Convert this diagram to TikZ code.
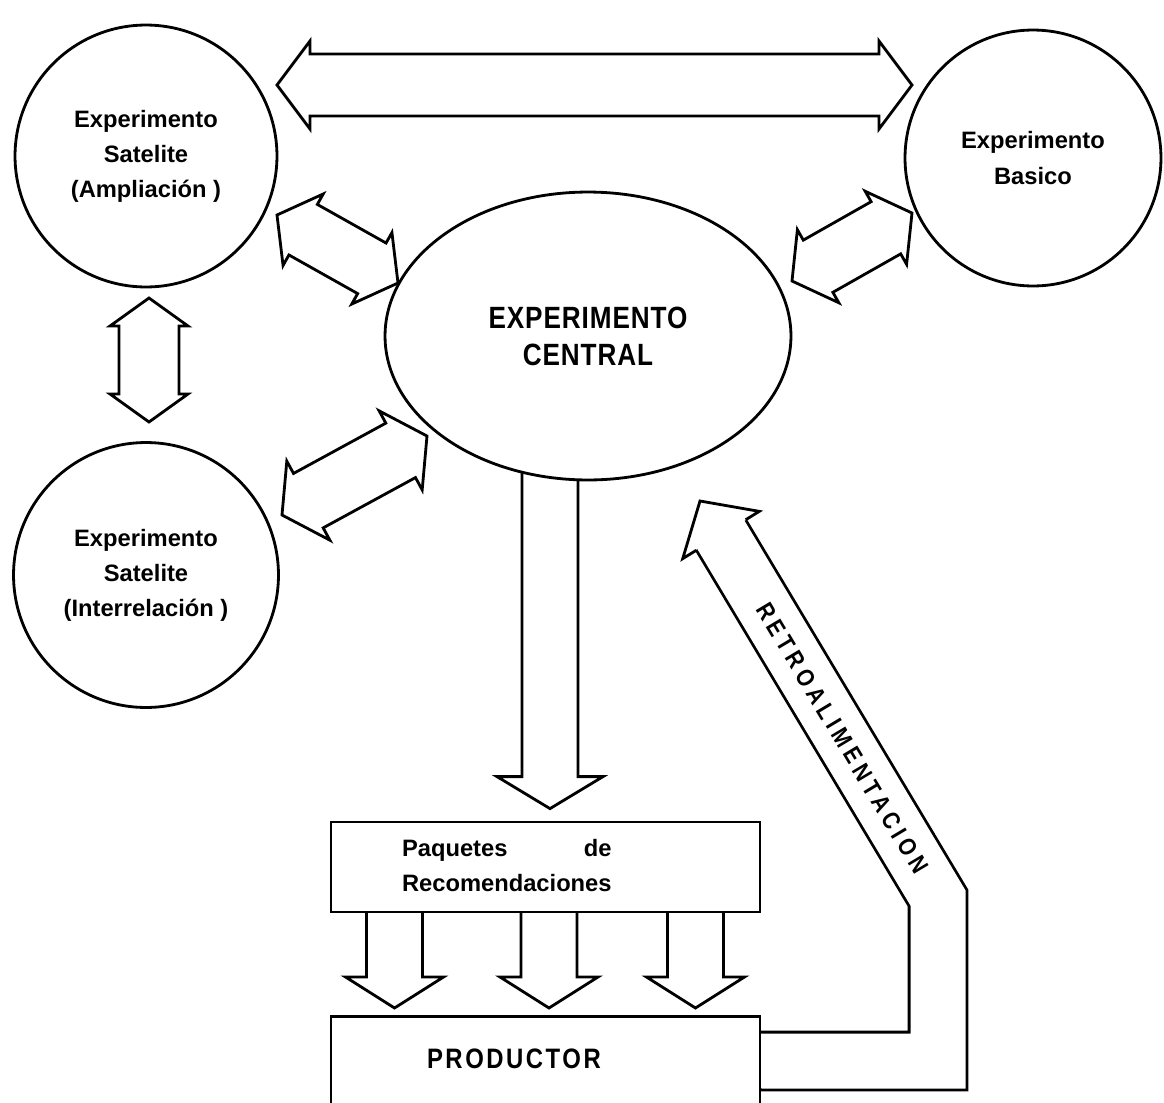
\documentclass[tikz,border=0pt]{standalone}
\usepackage{fontspec}
\setmainfont{Liberation Sans}
\newfontfamily\capsfont{Liberation Sans}[FakeStretch=0.85,LetterSpace=3]
\newfontfamily\prodfont{Liberation Sans}[FakeStretch=0.85,LetterSpace=9]
\newfontfamily\retrofont{Liberation Sans}[FakeStretch=0.85,LetterSpace=20]
\usetikzlibrary{shapes,calc,backgrounds}
\tikzstyle{expcircle} = [circle, draw, fill=white, align=center, font=\bfseries\fontsize{13.5}{20}\selectfont]
\tikzstyle{expcentral} = [ellipse, draw, fill=white, align=center, minimum width=8.12cm, minimum height=5.76cm, font=\capsfont\bfseries\fontsize{17.5}{21}\selectfont]
\tikzstyle{block} = [rectangle, draw, fill=white, minimum width=8.58cm, align=left]
\tikzstyle{feedback} = [draw, line width=1.6pt, double=white, double distance=1.1cm, line join=miter]
\tikzset{
  fat/.style n args={3}{line width=1.6pt, to path={
    -- ($(\tikztostart)!#1!(\tikztotarget)!#2!90:(\tikztotarget)$)
    -- ($(\tikztostart)!#1!(\tikztotarget)!#3!90:(\tikztotarget)$)
    -- ($(\tikztotarget)!#1!(\tikztostart)!#3!-90:(\tikztostart)$)
    -- ($(\tikztotarget)!#1!(\tikztostart)!#2!-90:(\tikztostart)$)
    -- (\tikztotarget)
    -- ($(\tikztotarget)!#1!(\tikztostart)!#2!90:(\tikztostart)$)
    -- ($(\tikztotarget)!#1!(\tikztostart)!#3!90:(\tikztostart)$)
    -- ($(\tikztostart)!#1!(\tikztotarget)!#3!-90:(\tikztotarget)$)
    -- ($(\tikztostart)!#1!(\tikztotarget)!#2!-90:(\tikztotarget)$)
    -- cycle}},
  fatone/.style n args={3}{line width=1.6pt, to path={
    ($(\tikztostart)!#3!90:(\tikztotarget)$)
    -- ($(\tikztotarget)!#1!(\tikztostart)!#3!-90:(\tikztostart)$)
    -- ($(\tikztotarget)!#1!(\tikztostart)!#2!-90:(\tikztostart)$)
    -- (\tikztotarget)
    -- ($(\tikztotarget)!#1!(\tikztostart)!#2!90:(\tikztostart)$)
    -- ($(\tikztotarget)!#1!(\tikztostart)!#3!90:(\tikztostart)$)
    -- ($(\tikztostart)!#3!-90:(\tikztotarget)$)}},
  fathead/.style 2 args={line width=1.6pt, to path={
    ($(\tikztostart)!#2!90:(\tikztotarget)$)
    -- ($(\tikztostart)!#1!90:(\tikztotarget)$)
    -- (\tikztotarget)
    -- ($(\tikztostart)!#1!-90:(\tikztotarget)$)
    -- ($(\tikztostart)!#2!-90:(\tikztotarget)$)}}
}
\begin{document}
\begin{tikzpicture}[x=0.02cm, y=-0.02cm, line width=1.6pt]
\useasboundingbox (0,0) rectangle (1164,1103);

% experiments
\node [expcircle, minimum size=5.24cm] at (146,156) (ampl) {Experimento\\Satelite\\(Ampliación )};
\node [expcircle, minimum size=5.3cm] at (146,575) (inter) {Experimento\\Satelite\\(Interrelación )};
\node [expcircle, minimum size=5.12cm] at (1033,158) (basic) {Experimento\\Basico};
\node [expcentral] at (588,336) (central) {EXPERIMENTO\\CENTRAL};

% packages, producer
\node [block, minimum height=1.8cm, text width=5.74cm, inner xsep=1.42cm, font=\bfseries\fontsize{13.5}{20}\selectfont] at (545.5,867) (paq) {\begin{tabular}{@{}l@{}}Paquetes \hfill de\\Recomendaciones\end{tabular}};
\node [block, anchor=north, text width=4.74cm, inner xsep=1.92cm, inner ysep=0pt, text height=1.04cm, text depth=2cm, font=\prodfont\bfseries\fontsize{16}{16}\selectfont] at (545.5,1015) (prod) {PRODUCTOR};

\begin{pgfonlayer}{background}
% links between experiments
\coordinate (top1) at (277,85);
\coordinate (top2) at (912,85);
\coordinate (side1) at (149,298);
\coordinate (side2) at (149,422);
\coordinate (ampl1) at (277,215);
\coordinate (ampl2) at (398,283);
\coordinate (inter1) at (282,515);
\coordinate (inter2) at (427,436);
\coordinate (basic1) at (792,281);
\coordinate (basic2) at (912,213);
\path [draw, fat={0.66cm}{0.88cm}{0.62cm}] (top1) to (top2);
\path [draw, fat={0.56cm}{0.78cm}{0.6cm}] (side1) to (side2);
\path [draw, fat={0.6cm}{0.82cm}{0.58cm}] (ampl1) to (ampl2);
\path [draw, fat={0.6cm}{0.9cm}{0.62cm}] (inter1) to (inter2);
\path [draw, fat={0.6cm}{0.84cm}{0.6cm}] (basic1) to (basic2);

% down to packages and producer
\coordinate (down1) at ([xshift=-0.76cm, yshift=0.4cm]central.south);
\coordinate (down2) at ([xshift=0.09cm, yshift=0.24cm]paq.north);
\path [draw, fatone={0.64cm}{1.06cm}{0.56cm}] (down1) to (down2);
\path [draw, fatone={0.62cm}{0.98cm}{0.56cm}] ([xshift=-3.02cm, yshift=0.3cm]paq.south) to ([xshift=-3.02cm, yshift=0.14cm]prod.north);
\path [draw, fatone={0.62cm}{0.98cm}{0.56cm}] ([xshift=0.07cm, yshift=0.3cm]paq.south) to ([xshift=0.07cm, yshift=0.14cm]prod.north);
\path [draw, fatone={0.62cm}{0.98cm}{0.56cm}] ([xshift=3cm, yshift=0.3cm]paq.south) to ([xshift=3cm, yshift=0.14cm]prod.north);

% feedback
\coordinate (fb0) at ([xshift=-0.4cm, yshift=-0.92cm]prod.north east);
\coordinate (fb1) at (938,1061);
\coordinate (fb2) at (938,898);
\coordinate (fb3) at (721,535);
\coordinate (fbtip) at (700,501);
\path [feedback] (fb0) -- (fb1) -- (fb2) -- node [sloped, pos=0.44, font=\retrofont\bfseries\fontsize{14}{14}\selectfont] {RETROALIMENTACION} (fb3);
\path [draw=white, line width=2pt] ($(fb3)!0.53cm!90:(fbtip)$) -- ($(fb3)!0.53cm!-90:(fbtip)$);
\path [draw, fathead={0.9cm}{0.58cm}] (fb3) to (fbtip);
\end{pgfonlayer}

\end{tikzpicture}
\end{document}
